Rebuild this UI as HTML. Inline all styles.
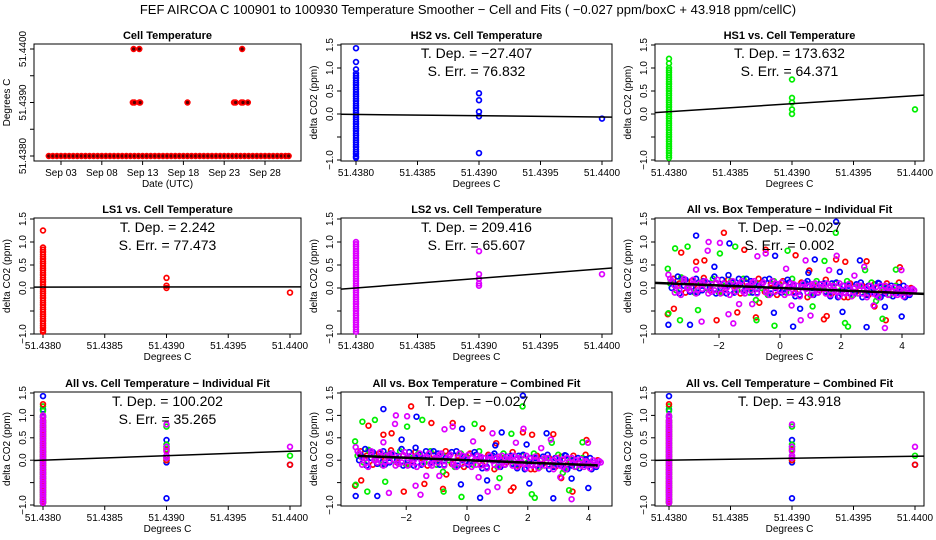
<!DOCTYPE html>
<html><head><meta charset="utf-8"><style>
html,body{margin:0;padding:0;background:#fff;}
svg{display:block;font-family:"Liberation Sans",Arial,sans-serif;}
</style></head><body>
<svg id="c" width="936" height="540" viewBox="0 0 936 540" xmlns="http://www.w3.org/2000/svg"></svg>
<script>
// ---------- data ----------
const dayTicks = [3, 8, 13, 18, 23, 28];
const dayTickLabels = ["Sep 03", "Sep 08", "Sep 13", "Sep 18", "Sep 23", "Sep 28"];
const baseTimes = [1.5,2,2.5,3,3.5,4,4.5,5,5.5,6,6.5,7,7.5,8,8.5,9,9.5,10,10.5,11,11.5,12,12.5,13,13.5,14,14.5,15,15.5,16,16.5,17,17.5,18,18.5,19,19.5,20,20.5,21,21.5,22,22.5,23,23.5,24,24.5,25,25.5,26,26.5,27,27.5,28,28.5,29,29.5,30,30.5,30.9];
const midTimes = [11.8, 12.0, 12.6, 12.7, 18.5, 24.2, 24.4, 25.1, 25.3, 25.9];
const highTimes = [11.9, 12.6, 25.2];
const cellTempLevels = [51.438, 51.439, 51.44];
const cellTicks = [51.438, 51.4385, 51.439, 51.4395, 51.44];
const cellTickLabels = ["51.4380", "51.4385", "51.4390", "51.4395", "51.4400"];
const co2Ticks = [-1, -0.5, 0, 0.5, 1, 1.5];
const co2TickLabels = ["\u22121.0", "", "0.0", "0.5", "1.0", "1.5"];
const boxTicks = [-2, 0, 2, 4];
const boxTickLabels = ["\u22122", "0", "2", "4"];

const hs2At4380 = [1.43,1.13,0.97,0.88,0.83,0.78,0.73,0.68,0.63,0.58,0.53,0.48,0.43,0.38,0.33,0.28,0.23,0.18,0.13,0.08,0.03,-0.02,-0.07,-0.12,-0.17,-0.22,-0.27,-0.32,-0.37,-0.42,-0.47,-0.52,-0.57,-0.62,-0.67,-0.72,-0.77,-0.82,-0.87,-0.92,-0.95];
const hs2At4390 = [0.45, 0.3, 0.05, -0.05, -0.85];
const hs2At4400 = [-0.1];
const hs1At4380 = [1.2,1.1,1.0,0.95,0.9,0.85,0.8,0.75,0.7,0.65,0.6,0.55,0.5,0.45,0.4,0.35,0.3,0.25,0.2,0.15,0.1,0.05,0,-0.05,-0.1,-0.15,-0.2,-0.25,-0.3,-0.35,-0.4,-0.45,-0.5,-0.55,-0.6,-0.65,-0.7,-0.75,-0.8,-0.85,-0.9,-0.95];
const hs1At4390 = [0.75, 0.35, 0.25, 0.1, 0.0];
const hs1At4400 = [0.1];
const ls1At4380 = [1.25,0.88,0.83,0.78,0.73,0.68,0.63,0.58,0.53,0.48,0.43,0.38,0.33,0.28,0.23,0.18,0.13,0.08,0.03,-0.02,-0.07,-0.12,-0.17,-0.22,-0.27,-0.32,-0.37,-0.42,-0.47,-0.52,-0.57,-0.62,-0.67,-0.72,-0.77,-0.82,-0.87,-0.92,-0.95];
const ls1At4390 = [0.22, 0.05, 0.0];
const ls1At4400 = [-0.1];
const ls2At4380 = [1.0,0.95,0.9,0.85,0.8,0.75,0.7,0.65,0.6,0.55,0.5,0.45,0.4,0.35,0.3,0.25,0.2,0.15,0.1,0.05,0,-0.05,-0.1,-0.15,-0.2,-0.25,-0.3,-0.35,-0.4,-0.45,-0.5,-0.55,-0.6,-0.65,-0.7,-0.75,-0.8,-0.85,-0.9,-0.95];
const ls2At4390 = [0.8, 0.3, 0.2, 0.1, 0.05];
const ls2At4400 = [0.3];

const fitHS2 = [-0.01, -27.407];
const fitHS1 = [0.05, 173.632];
const fitLS1 = [0.02, 2.242];
const fitLS2 = [0.0, 209.416];
const fitAllCellInd = [0.0, 100.202];
const fitAllCellComb = [0.0, 43.918];
const fitBox = [0.0, -0.027];

const redBox = [[-3.5,0.2],[-3.3,0.1],[-3.1,-0.1],[-2.9,0.15],[-2.7,0.0],[-2.5,0.22],[-2.3,-0.05],[-2.1,0.1],[-1.9,-0.1],[-1.7,0.18],[-1.5,0.05],[-1.3,-0.12],[-1.1,0.12],[-0.9,0.0],[-0.7,0.2],[-0.5,-0.08],[-0.3,0.1],[-0.1,-0.15],[0.1,0.15],[0.3,0.0],[0.5,-0.1],[0.7,0.12],[0.9,-0.2],[1.1,0.05],[1.3,-0.05],[1.5,0.18],[1.7,-0.12],[1.9,0.02],[2.1,-0.2],[2.3,0.1],[2.5,-0.08],[2.7,0.05],[2.9,-0.15],[3.1,0.08],[3.3,-0.1],[3.5,0.1],[3.7,-0.05],[3.9,0.12],[4.1,-0.1],[4.3,0.0],
 [-1.84,1.2],[-3.24,0.77],[-1.17,0.83],[-0.47,0.83],[0.51,0.71],[1.84,0.62],[2.14,0.57],[2.84,0.58],[-2.48,0.6],[-2.75,0.57],[-3.48,-0.45],[-2.08,-0.7],[-1.4,-0.53],[-0.79,-0.64],[1.44,-0.68],[1.53,-0.61],[3.1,-0.4],[3.47,-0.7],[3.93,0.45],[0.96,0.38],[-3.68,-0.57],[-0.68,-0.32],[2.23,-0.2]];
const greenBox = [[-3.6,0.1],[-3.4,-0.05],[-3.2,0.2],[-3.0,0.05],[-2.8,-0.1],[-2.6,0.12],[-2.4,0.0],[-2.2,0.2],[-2.0,-0.1],[-1.8,0.05],[-1.6,0.15],[-1.4,-0.05],[-1.2,0.2],[-1.0,-0.1],[-0.8,0.1],[-0.6,0.0],[-0.4,-0.15],[-0.2,0.15],[0.0,0.05],[0.2,-0.1],[0.4,0.2],[0.6,-0.05],[0.8,0.08],[1.0,-0.15],[1.2,0.15],[1.4,0.0],[1.6,-0.1],[1.8,0.1],[2.0,-0.05],[2.2,0.15],[2.4,-0.15],[2.6,0.05],[2.8,-0.1],[3.0,0.12],[3.2,-0.2],[3.4,0.0],[3.6,-0.15],[3.8,0.05],[4.0,-0.05],[4.2,-0.12],
 [-3.68,0.42],[-3.03,0.9],[-3.44,0.86],[-1.97,0.75],[-1.47,0.9],[0.25,0.81],[1.83,1.2],[1.46,0.59],[2.79,0.39],[3.8,0.4],[-3.28,-0.7],[-2.69,-0.48],[-0.77,-0.7],[-0.18,-0.82],[1.07,-0.4],[2.23,-0.84],[2.13,-0.76],[3.15,-0.28],[3.36,-0.67],[-3.66,-0.55],[-3.24,0.23],[-0.79,-0.26]];
const blueBox = [[-3.55,0.0],[-3.35,0.25],[-3.15,0.05],[-2.95,-0.08],[-2.75,0.2],[-2.55,-0.05],[-2.35,0.1],[-2.15,0.25],[-1.95,0.0],[-1.75,-0.12],[-1.55,0.12],[-1.35,0.2],[-1.15,-0.05],[-0.95,0.15],[-0.75,-0.1],[-0.55,0.12],[-0.35,0.2],[-0.15,0.0],[0.05,-0.1],[0.25,0.18],[0.45,0.05],[0.65,-0.15],[0.85,0.1],[1.05,0.0],[1.25,-0.1],[1.45,0.1],[1.65,-0.18],[1.85,0.12],[2.05,-0.05],[2.25,0.05],[2.45,-0.1],[2.65,0.12],[2.85,-0.15],[3.05,0.0],[3.25,0.1],[3.45,-0.12],[3.65,0.05],[3.85,-0.1],[4.05,0.05],[4.25,-0.15],
 [1.84,1.44],[-2.75,1.14],[-1.66,0.97],[-0.16,0.7],[1.14,0.62],[2.62,0.6],[-2.15,0.46],[1.96,0.35],[-2.95,-0.8],[-0.2,-0.54],[0.43,-0.84],[2.84,-0.85],[0.66,-0.45],[2.05,-0.52],[3.99,-0.62],[-3.66,-0.8],[3.44,-0.41],[3.22,0.11],[-1.69,0.28],[0.93,0.33]];
const blueBand = [[-3.5,0.12],[-3.3,-0.12],[-3.1,0.18],[-2.9,0.02],[-2.7,-0.1],[-2.5,0.15],[-2.3,0.0],[-2.1,-0.12],[-1.9,0.18],[-1.7,0.05],[-1.5,-0.1],[-1.3,0.1],[-1.1,0.2],[-0.9,-0.1],[-0.7,0.05],[-0.5,0.18],[-0.3,-0.12],[-0.1,0.08],[0.1,-0.05],[0.3,0.12],[0.5,-0.18],[0.7,0.05],[0.9,0.15],[1.1,-0.15],[1.3,0.08],[1.5,-0.08],[1.7,0.1],[1.9,-0.2],[2.1,0.05],[2.3,-0.12],[2.5,0.08],[2.7,-0.2],[2.9,0.05],[3.1,-0.12],[3.3,-0.2],[3.5,0.0],[3.7,-0.18],[3.9,0.02],[4.1,-0.2],[4.3,-0.08]];
const magentaBox = [[-3.6,0.2],[-3.45,0.05],[-3.3,-0.05],[-3.15,0.15],[-3.0,0.0],[-2.85,0.1],[-2.7,-0.05],[-2.55,0.12],[-2.4,0.02],[-2.25,-0.08],[-2.1,0.12],[-1.95,0.05],[-1.8,-0.05],[-1.65,0.1],[-1.5,0.0],[-1.35,0.08],[-1.2,-0.08],[-1.05,0.05],[-0.9,0.12],[-0.75,-0.02],[-0.6,0.08],[-0.45,-0.1],[-0.3,0.05],[-0.15,0.1],[0.0,-0.05],[0.15,0.05],[0.3,-0.1],[0.45,0.08],[0.6,-0.05],[0.75,0.02],[0.9,-0.1],[1.05,0.08],[1.2,-0.05],[1.35,0.02],[1.5,-0.12],[1.65,0.05],[1.8,-0.05],[1.95,0.1],[2.1,-0.1],[2.25,0.0],[2.4,-0.08],[2.55,0.05],[2.7,-0.12],[2.85,0.0],[3.0,-0.05],[3.15,-0.15],[3.3,0.05],[3.45,-0.08],[3.6,0.0],[3.75,-0.12],[3.9,-0.02],[4.05,-0.1],[4.2,-0.05],[4.35,-0.02],
 [-2.34,1.0],[-1.97,0.98],[-2.37,0.81],[-0.74,0.69],[-0.47,0.75],[0.84,0.6],[1.86,0.7],[2.76,0.46],[3.98,0.39],[1.61,0.39],[-2.75,0.4],[-3.66,0.29],[-2.57,-0.73],[-1.69,-0.57],[-1.53,-0.77],[-1.34,-0.35],[0.38,-0.38],[1.0,-0.6],[3.44,-0.87],[3.07,-0.38],[0.68,-0.7],[-0.91,-0.35],[0.2,0.42],[2.44,0.27]];
const magentaBand = [[-3.55,0.15],[-3.45,-0.1],[-3.35,0.05],[-3.25,-0.15],[-3.15,0.2],[-3.05,0.0],[-2.95,-0.05],[-2.85,0.18],[-2.75,-0.12],[-2.65,0.1],[-2.55,-0.02],[-2.45,0.15],[-2.35,-0.12],[-2.25,0.08],[-2.15,-0.05],[-2.05,0.18],[-1.95,-0.12],[-1.85,0.1],[-1.75,0.0],[-1.65,-0.15],[-1.55,0.15],[-1.45,-0.08],[-1.35,0.05],[-1.25,0.15],[-1.15,-0.12],[-1.05,0.02],[-0.95,-0.05],[-0.85,0.15],[-0.75,-0.12],[-0.65,0.05],[-0.55,0.12],[-0.45,-0.05],[-0.35,-0.15],[-0.25,0.15],[-0.15,-0.08],[-0.05,0.05],[0.05,0.12],[0.15,-0.15],[0.25,0.0],[0.35,0.1],[0.45,-0.12],[0.55,0.05],[0.65,-0.18],[0.75,0.1],[0.85,-0.02],[0.95,0.05],[1.05,-0.15],[1.15,0.1],[1.25,-0.1],[1.35,0.08],[1.45,-0.02],[1.55,0.1],[1.65,-0.15],[1.75,0.05],[1.85,-0.08],[1.95,-0.18],[2.05,0.05],[2.15,-0.12],[2.25,0.08],[2.35,-0.18],[2.45,0.0],[2.55,-0.12],[2.65,0.05],[2.75,-0.05],[2.85,-0.2],[2.95,0.05],[3.05,-0.12],[3.15,0.02],[3.25,-0.2],[3.35,-0.05],[3.45,0.05],[3.55,-0.15],[3.65,-0.05],[3.75,0.02],[3.85,-0.15],[3.95,-0.05],[4.05,-0.18],[4.15,0.0],[4.25,-0.12],[4.4,-0.05]];

// ---------- helpers ----------
const NS = "http://www.w3.org/2000/svg";
const svg = document.getElementById("c");
const RED = "#ff0000", GREEN = "#00ee00", BLUE = "#0000ff", MAG = "#dd00ff";
function mk(tag, attrs, parent) {
  const e = document.createElementNS(NS, tag);
  for (const k in attrs) e.setAttribute(k, attrs[k]);
  (parent || svg).appendChild(e);
  return e;
}
function lin(d0, d1, p0, p1) { return v => p0 + (v - d0) * (p1 - p0) / (d1 - d0); }
function txt(g, x, y, s, size, opts) {
  const t = mk("text", Object.assign({x: x, y: y, "font-size": size, "text-anchor": "middle", fill: "#000"}, opts || {}), g);
  t.setAttribute("xml:space", "preserve");
  t.textContent = s;
  return t;
}
const cols = [[34, 301], [341, 612], [655, 924]];
const rows = [[44, 161], [218, 334], [392, 506]];
const rowCo2 = [[45, 160], [219, 334], [393, 505]];
const colCell = [[43, 290], [356, 602], [669, 915]];

function frame(name, c, r, title) {
  const g = mk("g", {});
  
  
  const [x0, x1] = cols[c], [y0, y1] = rows[r];
  const rect = mk("rect", {x: x0, y: y0, width: x1 - x0, height: y1 - y0, fill: "none", stroke: "#000", "stroke-width": 1}, g);
  
  
  const t = txt(g, (x0 + x1) / 2, y0 - 5, title, 11, {"font-weight": "bold"});
  
  
  return g;
}
function xAxis(g, c, r, ticks, labels, sx, xlabel) {
  const y1 = rows[r][1];
  ticks.forEach((v, i) => {
    const x = sx(v);
    mk("line", {x1: x, x2: x, y1: y1, y2: y1 + 4, stroke: "#000"}, g);
    if (labels[i]) {
      const t = txt(g, x, y1 + 15, labels[i], 10);
      
      
    }
  });
  const t = txt(g, (cols[c][0] + cols[c][1]) / 2, y1 + 26, xlabel, 10);
  
  
}
function yAxis(g, c, r, ticks, labels, sy, ylabel) {
  const x0 = cols[c][0];
  ticks.forEach((v, i) => {
    const y = sy(v);
    mk("line", {x1: x0 - 4, x2: x0, y1: y, y2: y, stroke: "#000"}, g);
    if (labels[i]) {
      const t = txt(g, x0 - 8, y, labels[i], 10, {transform: `rotate(-90 ${x0 - 8} ${y})`});
      
      
    }
  });
  const yc = (rows[r][0] + rows[r][1]) / 2;
  const t = txt(g, x0 - 24, yc, ylabel, 10, {transform: `rotate(-90 ${x0 - 24} ${yc})`});
  
  
}
function pt(g, x, y, color) {
  const e = mk("circle", {cx: x.toFixed(1), cy: y.toFixed(1), r: 2.4, fill: "none", stroke: color, "stroke-width": 1.7}, g);
  
  
}
function fitLine(g, c, r, sx, sy, fit, x0v, xa, xb, w) {
  const clipId = "clip" + c + r;
  const cp = mk("clipPath", {id: clipId}, g);
  mk("rect", {x: cols[c][0], y: rows[r][0], width: cols[c][1] - cols[c][0], height: rows[r][1] - rows[r][0]}, cp);
  const l = mk("line", {x1: sx(xa), y1: sy(fit[0] + fit[1] * (xa - x0v)), x2: sx(xb), y2: sy(fit[0] + fit[1] * (xb - x0v)), stroke: "#000", "stroke-width": w, "clip-path": `url(#${clipId})`}, g);
  
  
}
function stats(g, c, r, l1, l2) {
  const xc = (cols[c][0] + cols[c][1]) / 2, y0 = rowCo2[r][0];
  const a = txt(g, xc, y0 + 13, l1, 14);
  
  
  if (l2) {
    const b = txt(g, xc, y0 + 31, l2, 14);
    
    
  }
}

// ---------- main title ----------
const mt = txt(svg, 468, 14, "FEF   AIRCOA C   100901 to 100930   Temperature Smoother \u2212 Cell and Fits ( \u22120.027  ppm/boxC +  43.918  ppm/cellC)", 13);



// ---------- panel 1: cell temperature time series ----------
{
  const g = frame("cell-temperature-panel", 0, 0, "Cell Temperature");
  const sx = lin(3, 28, 61, 265);
  const sy = lin(51.438, 51.44, 156, 49);
  xAxis(g, 0, 0, dayTicks, dayTickLabels, sx, "Date (UTC)");
  yAxis(g, 0, 0, cellTicks, ["51.4380", "", "51.4390", "", "51.4400"], sy, "Degrees C");
  const draw = (ts, v) => ts.forEach(t => {
    const c = mk("circle", {cx: sx(t), cy: sy(v), r: 2.4, fill: "#500", stroke: RED, "stroke-width": 1.6}, g);
    
    
  });
  draw(baseTimes, 51.438); draw(midTimes, 51.439); draw(highTimes, 51.44);
}

// ---------- cell-temperature scatter panels ----------
function cellPanel(name, c, r, title, series, fit, l1, l2) {
  const g = frame(name, c, r, title);
  const sx = lin(51.438, 51.44, colCell[c][0], colCell[c][1]);
  const sy = lin(1.5, -1, rowCo2[r][0], rowCo2[r][1]);
  xAxis(g, c, r, cellTicks, cellTickLabels, sx, "Degrees C");
  yAxis(g, c, r, co2Ticks, co2TickLabels, sy, "delta CO2 (ppm)");
  series.forEach(s => s.levels.forEach((ys, i) => ys.forEach(y => pt(g, sx(cellTempLevels[i]), sy(y), s.color))));
  fitLine(g, c, r, sx, sy, fit, 51.438, 51.4375, 51.4405, 1.5);
  stats(g, c, r, l1, l2);
}
const HS2 = {color: BLUE, levels: [hs2At4380, hs2At4390, hs2At4400]};
const HS1 = {color: GREEN, levels: [hs1At4380, hs1At4390, hs1At4400]};
const LS1 = {color: RED, levels: [ls1At4380, ls1At4390, ls1At4400]};
const LS2 = {color: MAG, levels: [ls2At4380, ls2At4390, ls2At4400]};
cellPanel("hs2-panel", 1, 0, "HS2 vs. Cell Temperature", [HS2], fitHS2, "T. Dep. =  \u221227.407", "S. Err. =  76.832");
cellPanel("hs1-panel", 2, 0, "HS1 vs. Cell Temperature", [HS1], fitHS1, "T. Dep. =  173.632", "S. Err. =  64.371");
cellPanel("ls1-panel", 0, 1, "LS1 vs. Cell Temperature", [LS1], fitLS1, "T. Dep. =  2.242", "S. Err. =  77.473");
cellPanel("ls2-panel", 1, 1, "LS2 vs. Cell Temperature", [LS2], fitLS2, "T. Dep. =  209.416", "S. Err. =  65.607");
cellPanel("all-cell-individual-panel", 0, 2, "All vs. Cell Temperature \u2212 Individual Fit", [HS2, HS1, LS1, LS2], fitAllCellInd, "T. Dep. =  100.202", "S. Err. =  35.265");
cellPanel("all-cell-combined-panel", 2, 2, "All vs. Cell Temperature \u2212 Combined Fit", [HS2, HS1, LS1, LS2], fitAllCellComb, "T. Dep. =  43.918", null);

// ---------- box-temperature panels ----------
function boxPanel(name, c, r, title, zeroX, unit, l1, l2, xa, xb) {
  const g = frame(name, c, r, title);
  const sx = v => zeroX + v * unit;
  const sy = lin(1.5, -1, rowCo2[r][0], rowCo2[r][1]);
  xAxis(g, c, r, boxTicks, boxTickLabels, sx, "Degrees C");
  yAxis(g, c, r, co2Ticks, co2TickLabels, sy, "delta CO2 (ppm)");
  [[redBox, RED], [greenBox, GREEN], [blueBox, BLUE], [blueBand, BLUE], [magentaBox, MAG], [magentaBand, MAG]].forEach(([arr, col]) =>
    arr.forEach(p => pt(g, sx(p[0]), sy(p[1]), col)));
  fitLine(g, c, r, sx, sy, fitBox, 0, xa, xb, 2.5);
  stats(g, c, r, l1, l2);
}
boxPanel("all-box-individual-panel", 2, 1, "All vs. Box Temperature \u2212 Individual Fit", 780, 30.5, "T. Dep. =  \u22120.027", "S. Err. =  0.002", -4.5, 5);
boxPanel("all-box-combined-panel", 1, 2, "All vs. Box Temperature \u2212 Combined Fit", 467, 30.4, "T. Dep. =  \u22120.027", null, -3.6, 4.3);
</script>
</body></html>
